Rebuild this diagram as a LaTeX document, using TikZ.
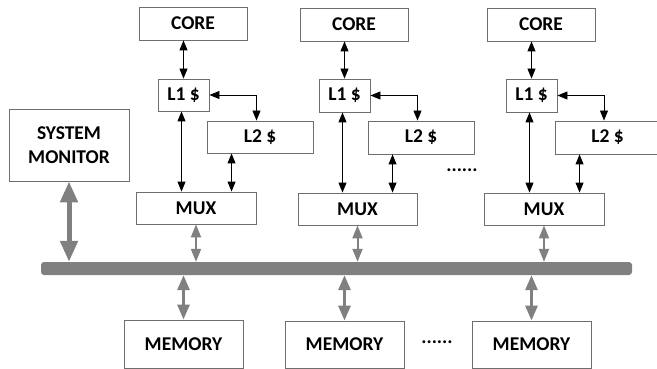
\documentclass[tikz,border=0pt]{standalone}
\usepackage{fontspec}
\setmainfont{Carlito}
\usetikzlibrary{arrows.meta}
\definecolor{busgray}{RGB}{128,128,128}
\definecolor{boxline}{RGB}{110,110,110}
\tikzset{
  blk/.style={draw=boxline, line width=0.9pt, fill=white, inner sep=0pt,
    font=\fontsize{19.5}{24}\selectfont\bfseries, align=center},
  barrow/.style={draw=black, line width=0.9pt, {Triangle[width=8pt,length=10pt]}-{Triangle[width=8pt,length=10pt]}},
  garrow/.style={draw=busgray, line width=2pt, {Triangle[width=10pt,length=13pt]}-{Triangle[width=10pt,length=13pt]}},
  marrow/.style={draw=busgray, line width=3pt, {Triangle[width=12pt,length=15pt]}-{Triangle[width=12pt,length=15pt]}},
  sarrow/.style={draw=busgray, line width=5pt, {Triangle[width=17pt,length=21pt]}-{Triangle[width=17pt,length=21pt]}},
  busbar/.style={fill=busgray, rounded corners=3pt, inner sep=0pt},
  dotstext/.style={font=\fontsize{19.5}{24}\selectfont\bfseries, inner sep=0pt}
}
\begin{document}
\begin{tikzpicture}[x=1pt,y=-1pt]
\useasboundingbox (0,0) rectangle (657,369);
\clip (0,0) rectangle (657,369);
% system monitor
\node[blk, minimum width=120, minimum height=72] (sys) at (69,145) {SYSTEM\\MONITOR};
% bus
\node[busbar, minimum width=591, minimum height=13] (bus) at (336.5,268.5) {};
% block 1
\node[blk, minimum width=108, minimum height=33] (core1) at (193,23.5) {CORE};
\node[blk, minimum width=51, minimum height=32] (l1a) at (183.5,95) {L1 \$};
\node[blk, minimum width=106, minimum height=32] (l2a) at (260,137) {L2 \$};
\node[blk, minimum width=120, minimum height=32] (mux1) at (196,208) {MUX};
\node[blk, minimum width=119, minimum height=48] (mem1) at (183.5,344) {MEMORY};
% block 2
\node[blk, minimum width=108, minimum height=33] (core2) at (354,24.5) {CORE};
\node[blk, minimum width=51, minimum height=33] (l1b) at (344.5,95.5) {L1 \$};
\node[blk, minimum width=106, minimum height=33] (l2b) at (421,137.5) {L2 \$};
\node[blk, minimum width=119, minimum height=32] (mux2) at (357.5,209) {MUX};
\node[blk, minimum width=119, minimum height=47] (mem2) at (344.5,344.5) {MEMORY};
% block 3
\node[blk, minimum width=108, minimum height=33] (core3) at (541,24.5) {CORE};
\node[blk, minimum width=51, minimum height=33] (l1c) at (531.5,95.5) {L1 \$};
\node[blk, minimum width=105, minimum height=33] (l2c) at (607.5,137.5) {L2 \$};
\node[blk, minimum width=120, minimum height=32] (mux3) at (544,209) {MUX};
\node[blk, minimum width=119, minimum height=47] (mem3) at (531.5,344.5) {MEMORY};
% dots
\node[dotstext] (dots1) at (462,170) {......};
\node[dotstext] (dots2) at (437,342) {......};
% black arrows
\foreach \c/\a/\b/\m in {core1/l1a/l2a/mux1, core2/l1b/l2b/mux2, core3/l1c/l2c/mux3}{
  \draw[barrow] (\a.north |- \c.south) -- (\a.north);
  \draw[barrow] (\a.east) -| ([xshift=-3.5]\b.north);
  \draw[barrow] ([xshift=-2]\a.south) -- ([xshift=-2]\a.south |- \m.north);
  \draw[barrow] ([xshift=25]\b.south west) -- ([xshift=25]\b.south west |- \m.north);
  \draw[garrow] (\m.south) -- (\m.south |- bus.north);
}
\foreach \mm in {mem1,mem2,mem3}{
  \draw[marrow] (\mm.north |- bus.south) -- (\mm.north);
}
\draw[sarrow] (sys.south) -- (sys.south |- bus.north);
\end{tikzpicture}
\end{document}
